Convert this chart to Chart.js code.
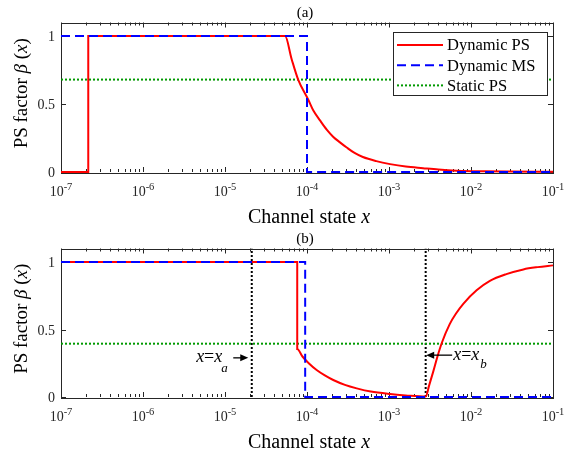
<!DOCTYPE html>
<html>
<head>
<meta charset="utf-8">
<script src="https://cdn.jsdelivr.net/npm/chart.js@4.4.0/dist/chart.umd.min.js"></script>
<style>
  html, body { margin: 0; padding: 0; background: #fff; }
  canvas { display: block; }
</style>
</head>
<body>
<canvas id="chartA" width="573" height="226"></canvas>
<canvas id="chartB" width="573" height="227"></canvas>
<script>
// axis ticks
const xTickExps = [-7, -6, -5, -4, -3, -2, -1];
const yTicks = [0, 0.5, 1];
const seriesNames = ["Dynamic PS", "Dynamic MS", "Static PS"];

// panel (a)
const aPsX = [1e-7, 2.15e-7, 2.15e-7, 5.4e-5, 6.5e-5, 7.8e-5, 1.04e-4, 1.2e-4, 1.44e-4, 1.75e-4, 2.08e-4, 2.5e-4, 3.05e-4, 3.8e-4, 4.8e-4, 7e-4, 1.03e-3, 1.6e-3, 2.6e-3, 4e-3, 6.7e-3, 1.5e-2, 3e-2, 1e-1];
const aPsY = [0, 0, 1, 1, 0.83, 0.68, 0.53, 0.45, 0.38, 0.31, 0.26, 0.22, 0.18, 0.14, 0.11, 0.08, 0.058, 0.04, 0.028, 0.018, 0.01, 0.005, 0.003, 0.001];
const aMsX = [1e-7, 1e-4, 1e-4, 1e-1];
const aMsY = [1, 1, 0, 0];
const aStaticX = [1e-7, 1e-1];
const aStaticY = [0.68, 0.68];

// panel (b)
const bPsX = [1e-7, 7.6e-5, 7.6e-5, 8.8e-5, 1.05e-4, 1.31e-4, 1.65e-4, 2.09e-4, 2.9e-4, 4.04e-4, 6e-4, 1.03e-3, 1.6e-3, 2.8e-3,
              3.1e-3, 3.47e-3, 3.9e-3, 4.4e-3, 5.5e-3, 6.6e-3, 8.05e-3, 1.17e-2, 1.7e-2, 2.7e-2, 4.35e-2, 6.5e-2, 1e-1];
const bPsY = [1, 1, 0.355, 0.3, 0.25, 0.2, 0.16, 0.126, 0.09, 0.064, 0.04, 0.022, 0.012, 0.003,
              0.09, 0.19, 0.3, 0.4, 0.54, 0.62, 0.69, 0.79, 0.86, 0.91, 0.945, 0.962, 0.975];
const bMsX = [1e-7, 9.5e-5, 9.5e-5, 1e-1];
const bMsY = [1, 1, 0, 0];
const bStaticX = [1e-7, 1e-1];
const bStaticY = [0.395, 0.395];
const xa = 2.12e-5;
const xb = 2.8e-3;
const arrowAY = 0.29;
const arrowBY = 0.31;

const FONT = "'Liberation Serif', 'Times New Roman', serif";
const AXIS = "#262626";
const pts = (xs, ys) => xs.map((v, i) => ({ x: v, y: ys[i] }));

const styles = [
  { borderColor: "#ff0000", borderWidth: 2, borderDash: [], order: 2, cubicInterpolationMode: "monotone" },
  { borderColor: "#0000ff", borderWidth: 2, borderDash: [9, 5], order: 1 },
  { borderColor: "#009900", borderWidth: 2, borderDash: [2, 2], order: 3 },
];

function seriesSets(psX, psY, msX, msY, stX, stY) {
  const xs = [psX, msX, stX], ys = [psY, msY, stY];
  return seriesNames.map((name, i) => Object.assign({
    label: name,
    data: pts(xs[i], ys[i]),
    pointRadius: 0,
    tension: 0,
    clip: 3,
  }, styles[i]));
}

function vline(xv) {
  return {
    label: "",
    data: pts([xv, xv], [0, 1.1]),
    borderColor: "#000",
    borderWidth: 2,
    borderDash: [2, 2],
    pointRadius: 0,
    order: 4,
  };
}

// draw text pieces in a row: [text, font, dy]
function pieces(ctx, parts, x, y) {
  let cx = x;
  parts.forEach(p => {
    ctx.font = p[1];
    ctx.fillText(p[0], cx, y + (p[2] || 0));
    cx += ctx.measureText(p[0]).width;
  });
  return cx - x;
}
function piecesWidth(ctx, parts) {
  let w = 0;
  parts.forEach(p => { ctx.font = p[1]; w += ctx.measureText(p[0]).width; });
  return w;
}

const matlabAxes = {
  id: "matlabAxes",
  beforeDatasetsDraw(chart, args, opts) {
    const { ctx, chartArea: a, scales: { x, y } } = chart;
    ctx.save();
    ctx.strokeStyle = AXIS;
    ctx.lineWidth = 1;
    ctx.beginPath();
    xTickExps.forEach((e, i) => {
      for (let k = 1; k < 10; k++) {
        if (k > 1 && i === xTickExps.length - 1) break;
        const px = Math.round(x.getPixelForValue(k * Math.pow(10, e))) + 0.5;
        const len = k === 1 ? 5 : 3;
        ctx.moveTo(px, a.bottom); ctx.lineTo(px, a.bottom - len);
        ctx.moveTo(px, a.top); ctx.lineTo(px, a.top + len);
      }
    });
    yTicks.forEach(v => {
      const py = Math.round(y.getPixelForValue(v)) + 0.5;
      ctx.moveTo(a.left, py); ctx.lineTo(a.left + 5, py);
      ctx.moveTo(a.right, py); ctx.lineTo(a.right - 5, py);
    });
    ctx.stroke();
    ctx.strokeRect(Math.round(a.left) + 0.5, Math.round(a.top) + 0.5,
                   Math.round(a.right - a.left), Math.round(a.bottom - a.top));

    // tick labels
    ctx.fillStyle = AXIS;
    ctx.textBaseline = "alphabetic";
    ctx.textAlign = "right";
    ctx.font = "14px " + FONT;
    yTicks.forEach(v => {
      ctx.fillText(String(v), a.left - 6, y.getPixelForValue(v) + 5);
    });
    ctx.textAlign = "left";
    xTickExps.forEach(e => {
      const parts = [["10", "14px " + FONT], [String(e), "10.5px " + FONT, -6.5]];
      const w = piecesWidth(ctx, parts);
      pieces(ctx, parts, x.getPixelForValue(Math.pow(10, e)) - w / 2, a.bottom + 24);
    });

    // x title
    ctx.fillStyle = "#000";
    const xt = [["Channel state ", "20px " + FONT], ["x", "italic 20px " + FONT]];
    const xw = piecesWidth(ctx, xt);
    pieces(ctx, xt, (a.left + a.right) / 2 - xw / 2 + 2, a.bottom + 51);

    // y title
    const yt = [["PS factor ", "19px " + FONT], ["\u03b2", "italic 19px " + FONT],
                [" (", "19px " + FONT], ["x", "italic 19px " + FONT], [")", "19px " + FONT]];
    const yw = piecesWidth(ctx, yt);
    ctx.save();
    ctx.translate(27, (a.top + a.bottom) / 2 - 4);
    ctx.rotate(-Math.PI / 2);
    pieces(ctx, yt, -yw / 2, 0);
    ctx.restore();

    // panel title
    ctx.font = "15px " + FONT;
    ctx.textAlign = "center";
    ctx.fillText(opts.title, (a.left + a.right) / 2 - 2, a.top - 6);
    ctx.restore();
  },
  afterDraw(chart, args, opts) {
    const { ctx, chartArea: a, scales: { x, y } } = chart;
    ctx.save();
    if (opts.legend) {
      const sets = chart.data.datasets.slice(0, 3);
      const bx = Math.round(a.right - 160) + 0.5, by = Math.round(a.top + 9) + 0.5;
      const bw = 154, bh = 63;
      ctx.fillStyle = "#fff";
      ctx.fillRect(bx, by, bw, bh);
      ctx.strokeStyle = AXIS;
      ctx.lineWidth = 1;
      ctx.strokeRect(bx, by, bw, bh);
      sets.forEach((ds, i) => {
        const ly = by + 12.5 + i * 20.2;
        ctx.beginPath();
        ctx.strokeStyle = ds.borderColor;
        ctx.lineWidth = ds.borderWidth;
        ctx.setLineDash(ds.borderDash);
        ctx.moveTo(bx + 3.5, ly);
        ctx.lineTo(bx + 49.5, ly);
        ctx.stroke();
        ctx.setLineDash([]);
        ctx.fillStyle = "#000";
        ctx.font = "16.5px " + FONT;
        ctx.textBaseline = "middle";
        ctx.textAlign = "left";
        ctx.fillText(ds.label, bx + 53.5, ly + 1);
      });
    }
    if (opts.marks) {
      ctx.fillStyle = "#000";
      ctx.strokeStyle = "#000";
      ctx.lineWidth = 1.3;
      ctx.textBaseline = "alphabetic";
      const main = "italic 18px " + FONT, plain = "18px " + FONT, sub = "italic 13px " + FONT;
      // x = x_a, arrow pointing right
      let tip = x.getPixelForValue(xa) - 3.5, ay = y.getPixelForValue(arrowAY);
      ctx.beginPath();
      ctx.moveTo(tip - 15, ay); ctx.lineTo(tip - 6, ay); ctx.stroke();
      ctx.beginPath();
      ctx.moveTo(tip, ay); ctx.lineTo(tip - 8, ay - 3.5); ctx.lineTo(tip - 8, ay + 3.5); ctx.closePath(); ctx.fill();
      let parts = [["x", main], ["=", plain], ["x", main]];
      let w = piecesWidth(ctx, parts);
      let end = tip - 26;
      pieces(ctx, parts, end - w, ay + 4.5);
      ctx.font = sub;
      ctx.fillText("a", end - 1, ay + 14);
      // x = x_b, arrow pointing left
      tip = x.getPixelForValue(xb) + 0.5; ay = y.getPixelForValue(arrowBY);
      ctx.beginPath();
      ctx.moveTo(tip + 6, ay); ctx.lineTo(tip + 26, ay); ctx.stroke();
      ctx.beginPath();
      ctx.moveTo(tip, ay); ctx.lineTo(tip + 8, ay - 3.5); ctx.lineTo(tip + 8, ay + 3.5); ctx.closePath(); ctx.fill();
      parts = [["x", main], ["=", plain], ["x", main]];
      w = pieces(ctx, parts, tip + 27, ay + 5);
      ctx.font = sub;
      ctx.fillText("b", tip + 27 + w + 1, ay + 13);
    }
    ctx.restore();
  }
};

function makeChart(id, datasets, xHeight, plug) {
  return new Chart(document.getElementById(id), {
    type: "line",
    data: { datasets: datasets },
    options: {
      responsive: false,
      animation: false,
      layout: { padding: { top: 22.5, right: 20, left: 0, bottom: 0 } },
      scales: {
        x: {
          type: "logarithmic",
          min: 1e-7,
          max: 1e-1,
          grid: { display: false },
          border: { display: false },
          ticks: { display: false },
          afterFit: s => { s.height = xHeight; },
        },
        y: {
          min: 0,
          max: 1.1,
          grid: { display: false },
          border: { display: false },
          ticks: { display: false },
          afterFit: s => { s.width = 61; },
        },
      },
      plugins: {
        legend: { display: false },
        tooltip: { enabled: false },
        matlabAxes: plug,
      },
    },
    plugins: [matlabAxes],
  });
}

makeChart("chartA", seriesSets(aPsX, aPsY, aMsX, aMsY, aStaticX, aStaticY), 54,
  { title: "(a)", legend: true, marks: false });
makeChart("chartB", seriesSets(bPsX, bPsY, bMsX, bMsY, bStaticX, bStaticY).concat([vline(xa), vline(xb)]), 56,
  { title: "(b)", legend: false, marks: true });
</script>
</body>
</html>
